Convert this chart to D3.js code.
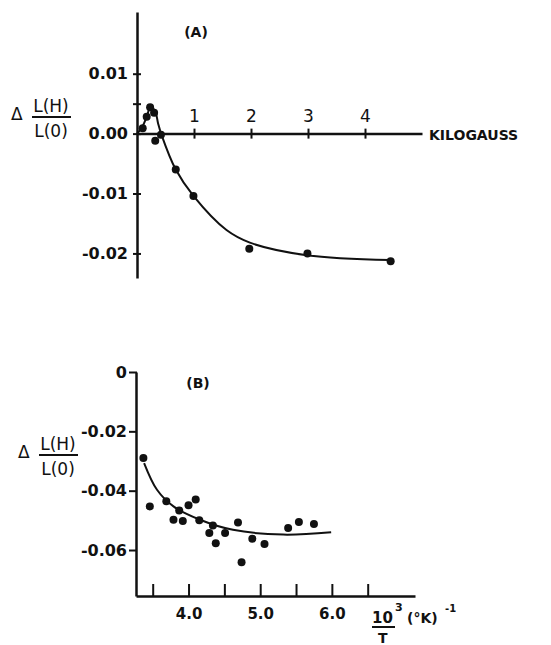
<!DOCTYPE html>
<html>
<head>
<meta charset="utf-8">
<script src="https://cdn.jsdelivr.net/npm/d3@7"></script>
<style>
  body { margin: 0; background: #fff; }
  text { font-family: "DejaVu Sans", sans-serif; font-weight: bold; fill: #111; }
</style>
</head>
<body>
<div id="chart"></div>
<script>
// panel (A): field dependence, measured points and the drawn curve
var fieldKG   = [0.10, 0.17, 0.23, 0.30, 0.32, 0.42, 0.68, 0.99, 1.97, 2.99, 4.45];
var ratioA    = [0.0009, 0.0028, 0.0044, 0.0035, -0.0012, -0.0002, -0.0060, -0.0104, -0.0192, -0.0200, -0.0213];
var fitFieldA = [0, 0.08, 0.17, 0.24, 0.32, 0.37, 0.43, 0.68, 0.99, 1.57, 1.98, 2.98, 4.44];
var fitRatioA = [0, 0.0009, 0.0028, 0.0045, 0.0037, 0.0017, -0.0002, -0.0060, -0.0104, -0.0161, -0.0182, -0.0203, -0.0211];
var xTicksA   = [1, 2, 3, 4];
var yTicksA   = [0.01, 0.005, 0, -0.01, -0.02];
var yLabelsA  = {"0.01": "0.01", "0": "0.00", "-0.01": "-0.01", "-0.02": "-0.02"};

// panel (B): temperature dependence
var invTemp   = [3.37, 3.46, 3.69, 3.79, 3.87, 3.92, 4.00, 4.10, 4.15, 4.29, 4.34, 4.38, 4.51, 4.69, 4.74, 4.89, 5.06, 5.39, 5.54, 5.75];
var ratioB    = [-0.0290, -0.0453, -0.0436, -0.0498, -0.0467, -0.0502, -0.0449, -0.0430, -0.0500, -0.0543, -0.0517, -0.0577, -0.0543, -0.0507, -0.0641, -0.0562, -0.0580, -0.0526, -0.0506, -0.0512];
var fitTempB  = [3.38, 3.56, 3.79, 4.16, 4.62, 5.32, 5.99];
var fitRatioB = [-0.0307, -0.0397, -0.0453, -0.0498, -0.0532, -0.0548, -0.0540];
var xTicksB   = [3.5, 4.0, 4.5, 5.0, 5.5, 6.0, 6.5];
var xLabelsB  = [4.0, 5.0, 6.0];
var yTicksB   = [0, -0.02, -0.04, -0.06];
var yLabelsB  = {"0": "0", "-0.02": "-0.02", "-0.04": "-0.04", "-0.06": "-0.06"};

var width = 551, height = 645;
var svg = d3.select("#chart").append("svg")
    .attr("width", width)
    .attr("height", height);

svg.append("rect").attr("width", width).attr("height", height).attr("fill", "#fff");

function zip(a, b) {
    return a.map(function(d, i) { return [d, b[i]]; });
}

function yLabel(g, x, y) {
    // delta L(H) / L(0) stacked label
    g.append("text").attr("x", x).attr("y", y + 5)
        .style("font-weight", "normal").style("font-size", "17px").text("\u0394");
    g.append("text").attr("x", x + 40).attr("y", y - 3)
        .attr("text-anchor", "middle").style("font-size", "17px").style("font-weight", "normal")
        .text("L(H)");
    g.append("line").attr("x1", x + 21).attr("x2", x + 60)
        .attr("y1", y + 2).attr("y2", y + 2)
        .attr("stroke", "#111").attr("stroke-width", 2.2);
    g.append("text").attr("x", x + 40).attr("y", y + 22)
        .attr("text-anchor", "middle").style("font-size", "17px").style("font-weight", "normal")
        .text("L(0)");
}

// ---------- panel A ----------
var xA = d3.scaleLinear().domain([0, 5]).range([137, 422]);
var yA = d3.scaleLinear().domain([0.0203, -0.0241]).range([12, 278]);
var gA = svg.append("g");

gA.append("g")
    .attr("transform", "translate(0," + yA(0) + ")")
    .call(d3.axisBottom(xA).tickValues(xTicksA).tickSizeOuter(0).tickFormat(d3.format("d")))
    .call(function(g) {
        g.select(".domain").attr("stroke", "#111").attr("stroke-width", 2.5);
        g.selectAll(".tick line").attr("y1", -5).attr("y2", 5).attr("stroke", "#111").attr("stroke-width", 2);
        g.selectAll(".tick text").attr("y", -24).attr("dy", "0.71em")
            .style("font-size", "17px").style("font-weight", "normal");
    });

gA.append("g")
    .attr("transform", "translate(" + xA(0) + ",0)")
    .call(d3.axisLeft(yA).tickValues(yTicksA).tickSizeOuter(0)
        .tickFormat(function(d) { return yLabelsA[String(d)] || ""; }))
    .call(function(g) {
        g.select(".domain").attr("stroke", "#111").attr("stroke-width", 2.5);
        g.selectAll(".tick line").attr("x1", -4).attr("x2", 4).attr("stroke", "#111").attr("stroke-width", 2);
        g.selectAll(".tick text").attr("x", -9).style("font-size", "16px");
    });

gA.append("text").attr("x", 429).attr("y", 140).style("font-size", "14px").text("KILOGAUSS");
gA.append("text").attr("x", 196).attr("y", 37).attr("text-anchor", "middle").style("font-size", "14px").text("(A)");
yLabel(gA, 11, 115);

var lineA = d3.line()
    .x(function(d) { return xA(d[0]); })
    .y(function(d) { return yA(d[1]); })
    .curve(d3.curveCatmullRom);

gA.append("path").datum(zip(fitFieldA, fitRatioA))
    .attr("d", lineA).attr("fill", "none").attr("stroke", "#111").attr("stroke-width", 2);

gA.selectAll("circle").data(zip(fieldKG, ratioA)).enter().append("circle")
    .attr("cx", function(d) { return xA(d[0]); })
    .attr("cy", function(d) { return yA(d[1]); })
    .attr("r", 4).attr("fill", "#111");

// ---------- panel B ----------
var xB = d3.scaleLinear().domain([3.267, 7.16]).range([136, 415]);
var yB = d3.scaleLinear().domain([0, -0.0755]).range([372, 596]);
var gB = svg.append("g");

gB.append("g")
    .attr("transform", "translate(0," + yB.range()[1] + ")")
    .call(d3.axisBottom(xB).tickValues(xTicksB).tickSizeOuter(0)
        .tickFormat(function(d) { return xLabelsB.indexOf(d) >= 0 ? d3.format(".1f")(d) : ""; }))
    .call(function(g) {
        g.select(".domain").attr("stroke", "#111").attr("stroke-width", 2.5);
        g.selectAll(".tick line").attr("y1", -12).attr("y2", 0).attr("stroke", "#111").attr("stroke-width", 2);
        g.selectAll(".tick text").attr("y", 12).style("font-size", "15px");
    });

gB.append("g")
    .attr("transform", "translate(" + xB.range()[0] + ",0)")
    .call(d3.axisLeft(yB).tickValues(yTicksB).tickSizeOuter(0)
        .tickFormat(function(d) { return yLabelsB[String(d)]; }))
    .call(function(g) {
        g.select(".domain").attr("stroke", "#111").attr("stroke-width", 2.5);
        g.selectAll(".tick line").attr("x1", -7).attr("x2", 1).attr("stroke", "#111").attr("stroke-width", 2);
        g.selectAll(".tick text").attr("x", -9).style("font-size", "16px");
    });

gB.append("text").attr("x", 198).attr("y", 388).attr("text-anchor", "middle").style("font-size", "14px").text("(B)");
yLabel(gB, 18, 453);

// 10^3 / T (°K)^-1
var xl = svg.append("g");
xl.append("text").attr("x", 372).attr("y", 623).style("font-size", "15px").text("10");
xl.append("text").attr("x", 395).attr("y", 611).style("font-size", "11px").text("3");
xl.append("line").attr("x1", 372).attr("x2", 395).attr("y1", 627).attr("y2", 627)
    .attr("stroke", "#111").attr("stroke-width", 2);
xl.append("text").attr("x", 378).attr("y", 643).style("font-size", "14px").text("T");
xl.append("text").attr("x", 407).attr("y", 623).style("font-size", "14px").text("(\u00b0K)");
xl.append("text").attr("x", 445).attr("y", 612).style("font-size", "10px").text("-1");

var lineB = d3.line()
    .x(function(d) { return xB(d[0]); })
    .y(function(d) { return yB(d[1]); })
    .curve(d3.curveCatmullRom);

gB.append("path").datum(zip(fitTempB, fitRatioB))
    .attr("d", lineB).attr("fill", "none").attr("stroke", "#111").attr("stroke-width", 2);

gB.selectAll("circle").data(zip(invTemp, ratioB)).enter().append("circle")
    .attr("cx", function(d) { return xB(d[0]); })
    .attr("cy", function(d) { return yB(d[1]); })
    .attr("r", 4).attr("fill", "#111");
</script>
</body>
</html>
